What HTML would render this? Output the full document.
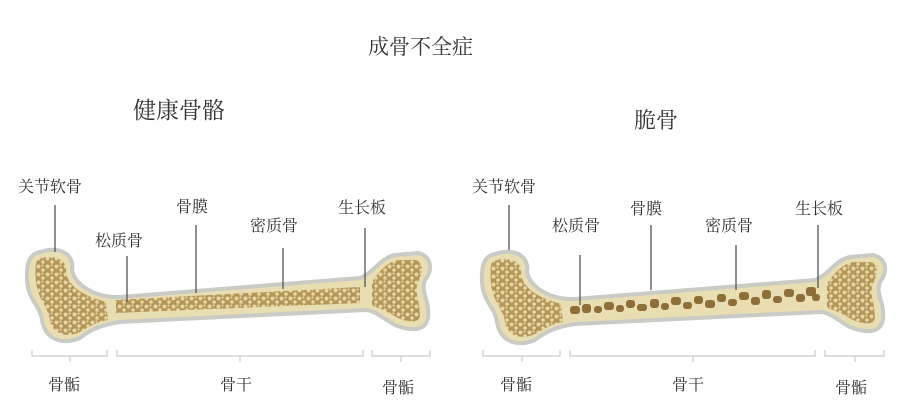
<!DOCTYPE html>
<html><head><meta charset="utf-8"><style>
html,body{margin:0;padding:0;background:#fff;}
svg text{font-family:"Liberation Serif","Noto Serif CJK SC",serif;fill:#333;}
</style></head><body>
<svg width="900" height="406" viewBox="0 0 900 406" xmlns="http://www.w3.org/2000/svg">
<defs>
<pattern id="sp" width="9" height="8" patternUnits="userSpaceOnUse">
<rect width="9" height="8" fill="#b39557"/>
<circle cx="2.5" cy="2.5" r="2" fill="#e6d7a2"/>
<circle cx="7" cy="6" r="1.8" fill="#e6d7a2"/>
<circle cx="6.5" cy="1.5" r="1.1" fill="#e6d7a2"/>
</pattern>
<g id="bone">
<path d="M40 252 C60 245 75 255 72 270 C75 285 95 298 120 297 L360 278 C375 272 380 258 395 255 L418 253 C432 256 433 270 425 280 C420 292 430 300 428 318 C425 332 410 331 395 325 C385 320 375 310 365 310 L120 322 C100 325 90 330 80 338 C60 346 45 338 42 320 C40 305 28 300 27 280 C26 262 30 254 40 252 Z" fill="#e9ddb2" stroke="#cbcbc6" stroke-width="4"/>
<path d="M40 258 C58 254 68 262 66 272 C68 285 80 295 106 302 L108 320 C95 322 88 328 78 333 C62 338 52 332 50 320 C48 306 38 300 36 282 C35 268 35 260 40 258 Z" fill="url(#sp)"/>
<path d="M372 282 C380 270 388 262 398 260 L416 260 C424 263 423 272 418 282 C414 292 420 302 420 316 C418 324 408 322 398 318 C388 312 380 308 372 306 Z" fill="url(#sp)"/>
</g>
</defs>
<text x="368" y="54" font-size="21">成骨不全症</text>
<text x="133" y="118" font-size="23">健康骨骼</text>
<text x="634" y="128" font-size="22">脆骨</text>

<use href="#bone"/>
<path d="M116 300 L360 287 L360 303 L116 313 Z" fill="url(#sp)"/>
<g transform="translate(455,2)"><use href="#bone"/></g>

<g fill="#8f6f38">
<rect x="570" y="306" width="10" height="8" rx="3"/><rect x="582" y="304" width="9" height="9" rx="3"/>
<rect x="594" y="306" width="8" height="7" rx="3"/><rect x="604" y="302" width="10" height="8" rx="3"/>
<rect x="616" y="305" width="8" height="7" rx="3"/><rect x="626" y="300" width="9" height="8" rx="3"/>
<rect x="637" y="304" width="10" height="7" rx="3"/><rect x="650" y="299" width="9" height="9" rx="3"/>
<rect x="661" y="303" width="8" height="7" rx="3"/><rect x="671" y="297" width="10" height="8" rx="3"/>
<rect x="683" y="302" width="9" height="7" rx="3"/><rect x="694" y="296" width="9" height="8" rx="3"/>
<rect x="705" y="300" width="10" height="8" rx="3"/><rect x="717" y="294" width="9" height="8" rx="3"/>
<rect x="728" y="299" width="9" height="7" rx="3"/><rect x="739" y="292" width="10" height="8" rx="3"/>
<rect x="751" y="297" width="9" height="8" rx="3"/><rect x="762" y="290" width="9" height="9" rx="3"/>
<rect x="773" y="296" width="9" height="7" rx="3"/><rect x="784" y="289" width="10" height="8" rx="3"/>
<rect x="796" y="294" width="9" height="8" rx="3"/><rect x="806" y="287" width="10" height="9" rx="3"/>
<rect x="812" y="294" width="8" height="7" rx="3"/>
</g>

<g stroke="#555" stroke-width="1.3">
<line x1="55" y1="205" x2="55" y2="252"/>
<line x1="127" y1="256" x2="127" y2="302"/>
<line x1="196" y1="225" x2="196" y2="293"/>
<line x1="283" y1="248" x2="283" y2="289"/>
<line x1="365" y1="228" x2="365" y2="287"/>
<line x1="509" y1="205" x2="509" y2="250"/>
<line x1="580" y1="255" x2="580" y2="305"/>
<line x1="651" y1="225" x2="651" y2="290"/>
<line x1="736" y1="245" x2="736" y2="290"/>
<line x1="818" y1="225" x2="818" y2="288"/>
</g>
<g stroke="#ccc" stroke-width="1.2" fill="none">
<path d="M32 350 V356 H107 V350 M70 356 V362"/>
<path d="M117 350 V356 H363 V350 M240 356 V362"/>
<path d="M372 350 V356 H430 V350 M401 356 V362"/>
<path d="M483 350 V356 H560 V350 M522 356 V362"/>
<path d="M570 350 V356 H815 V350 M693 356 V362"/>
<path d="M825 350 V356 H884 V350 M855 356 V362"/>
</g>
<g font-size="16">
<text x="18" y="192">关节软骨</text>
<text x="95" y="246">松质骨</text>
<text x="176" y="212">骨膜</text>
<text x="250" y="231">密质骨</text>
<text x="338" y="213">生长板</text>
<text x="472" y="192">关节软骨</text>
<text x="552" y="231">松质骨</text>
<text x="630" y="214">骨膜</text>
<text x="705" y="231">密质骨</text>
<text x="795" y="214">生长板</text>
<text x="48" y="390">骨骺</text>
<text x="220" y="390">骨干</text>
<text x="382" y="393">骨骺</text>
<text x="500" y="390">骨骺</text>
<text x="672" y="390">骨干</text>
<text x="835" y="393">骨骺</text>
</g>
</svg>
</body></html>
